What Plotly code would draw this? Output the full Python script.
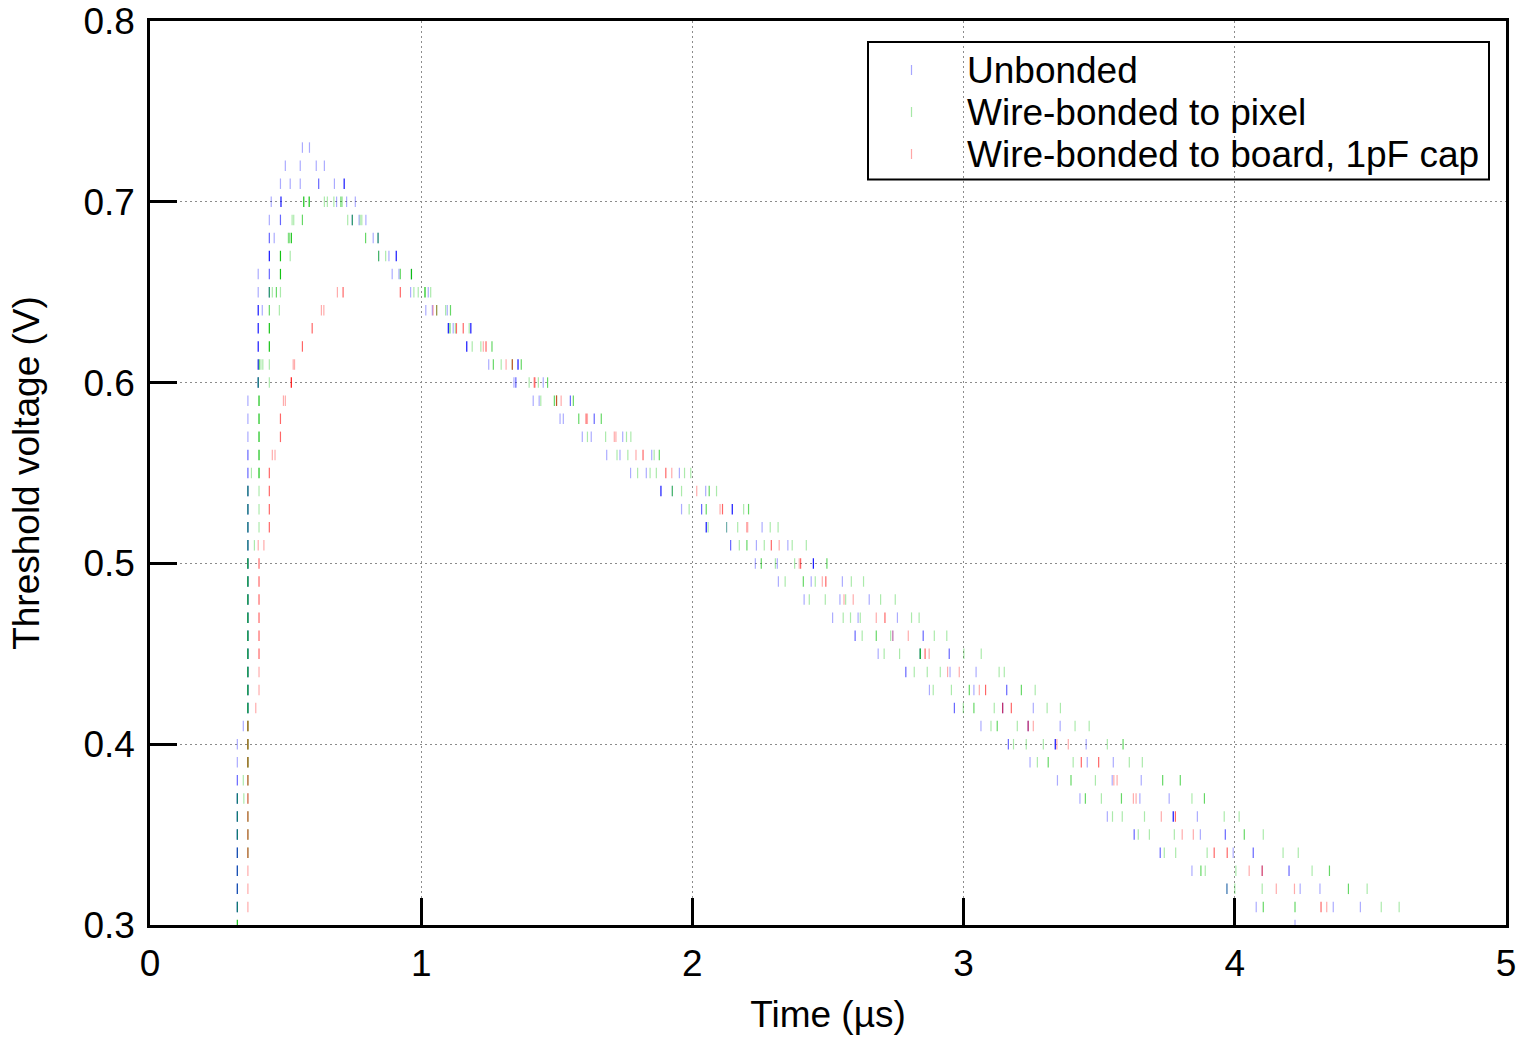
import plotly.graph_objects as go

FONT = "Liberation Sans, Arial, sans-serif"

# Threshold scan: each row is (threshold in V, crossing times in µs, weight of each mark l/m/d)
unbonded_rows = [
    (0.73, [0.562, 0.588], "ll"),
    (0.72, [0.499, 0.554, 0.613, 0.643], "llll"),
    (0.71, [0.481, 0.517, 0.554, 0.622, 0.680, 0.716], "lllmld"),
    (0.70, [0.447, 0.483, 0.688, 0.725, 0.757], "ldlll"),
    (0.69, [0.440, 0.481, 0.746, 0.771, 0.796], "lmmll"),
    (0.68, [0.440, 0.458, 0.823, 0.841], "mllm"),
    (0.67, [0.440, 0.843, 0.881, 0.908], "dlld"),
    (0.66, [0.399, 0.440, 0.893, 0.918, 0.964], "lmlll"),
    (0.65, [0.399, 0.440, 0.961, 1.026], "lmll"),
    (0.64, [0.399, 0.414, 1.017, 1.041, 1.096], "dllll"),
    (0.63, [0.399, 1.100, 1.118, 1.183], "ddld"),
    (0.62, [0.399, 1.168], "dd"),
    (0.61, [0.399, 1.249, 1.357], "dld"),
    (0.60, [0.399, 1.342, 1.349, 1.450], "dlml"),
    (0.59, [0.361, 1.413, 1.435, 1.550], "lllm"),
    (0.58, [0.361, 1.512, 1.524, 1.638], "lllm"),
    (0.57, [0.361, 1.594, 1.627, 1.743], "llll"),
    (0.56, [0.361, 1.684, 1.733, 1.850], "mlll"),
    (0.55, [0.361, 1.772, 1.830, 1.952], "mlll"),
    (0.54, [0.361, 1.884, 1.926, 2.049], "ddll"),
    (0.53, [0.361, 1.960, 2.034, 2.147], "dlmd"),
    (0.52, [0.361, 2.051, 2.126, 2.257], "ddll"),
    (0.51, [0.361, 2.141, 2.236, 2.352], "dmll"),
    (0.50, [0.361, 2.232, 2.313, 2.446], "dlld"),
    (0.49, [0.361, 2.317, 2.438, 2.553], "dlll"),
    (0.48, [0.361, 2.412, 2.544, 2.652], "dlll"),
    (0.47, [0.361, 2.517, 2.611, 2.756], "dlll"),
    (0.46, [0.361, 2.600, 2.739, 2.851], "dmlm"),
    (0.45, [0.361, 2.685, 2.840, 2.947], "dlmm"),
    (0.44, [0.361, 2.787, 2.950, 3.046], "dmll"),
    (0.43, [0.361, 2.874, 3.038, 3.159], "dllm"),
    (0.42, [0.361, 2.966, 3.144, 3.257], "dmml"),
    (0.41, [0.344, 3.064, 3.238, 3.356], "llml"),
    (0.40, [0.322, 3.165, 3.338, 3.452], "lmdl"),
    (0.39, [0.322, 3.245, 3.456, 3.552], "llll"),
    (0.38, [0.322, 3.346, 3.548, 3.655], "mlll"),
    (0.37, [0.322, 3.429, 3.650, 3.758], "dlll"),
    (0.36, [0.322, 3.530, 3.773, 3.862], "dldl"),
    (0.35, [0.322, 3.629, 3.873, 3.965], "dmlm"),
    (0.34, [0.322, 3.725, 3.994, 4.068], "dmlm"),
    (0.33, [0.322, 3.842, 4.101, 4.200], "dllm"),
    (0.32, [0.322, 3.971, 4.241, 4.314], "dmll"),
    (0.31, [0.322, 4.079, 4.363, 4.463], "dlll"),
    (0.30, [4.222], "l"),
]

pixel_rows = [
    (0.70, [0.567, 0.587, 0.643, 0.654, 0.678, 0.704, 0.709], "ddlllml"),
    (0.69, [0.524, 0.530, 0.562, 0.729, 0.746, 0.775, 0.781], "llmlmll"),
    (0.68, [0.510, 0.513, 0.521, 0.795, 0.841], "lmdmm"),
    (0.67, [0.481, 0.517, 0.843, 0.869], "dlml"),
    (0.66, [0.481, 0.923, 0.964], "dmd"),
    (0.65, [0.440, 0.451, 0.466, 0.481, 0.973, 0.989, 1.014, 1.035], "mlmllldl"),
    (0.64, [0.440, 0.477, 1.057, 1.090, 1.108], "mlmlm"),
    (0.63, [0.440, 1.106, 1.126, 1.177], "dmll"),
    (0.62, [0.440, 1.188, 1.220, 1.261], "dllm"),
    (0.61, [0.403, 0.409, 0.416, 0.440, 1.266, 1.295, 1.336, 1.369], "mlllmlmm"),
    (0.60, [0.399, 0.440, 1.398, 1.432, 1.466], "mlllm"),
    (0.59, [0.402, 1.441, 1.491, 1.499, 1.561], "dlmmm"),
    (0.58, [0.402, 1.581, 1.664], "dmm"),
    (0.57, [0.402, 1.613, 1.680, 1.757, 1.773], "dllll"),
    (0.56, [0.402, 1.722, 1.762, 1.859, 1.878], "dlllm"),
    (0.55, [0.374, 0.402, 1.798, 1.844, 1.867, 1.971, 1.994], "ldlllll"),
    (0.54, [0.361, 0.402, 1.926, 1.960, 2.062, 2.089], "mlmlml"),
    (0.53, [0.361, 0.402, 1.988, 2.051, 2.189, 2.207], "mllmlm"),
    (0.52, [0.361, 0.402, 2.058, 2.126, 2.167, 2.287, 2.316], "mllllll"),
    (0.51, [0.361, 0.385, 2.173, 2.201, 2.265, 2.368, 2.420], "mllmlll"),
    (0.50, [0.361, 2.254, 2.306, 2.377, 2.496], "dmllm"),
    (0.49, [0.361, 2.342, 2.409, 2.453, 2.586, 2.631], "dlmlll"),
    (0.48, [0.361, 2.431, 2.490, 2.565, 2.694, 2.748], "dlllll"),
    (0.47, [0.361, 2.556, 2.583, 2.619, 2.808, 2.836], "dlllll"),
    (0.46, [0.361, 2.626, 2.678, 2.731, 2.892, 2.938], "dlmlll"),
    (0.45, [0.361, 2.707, 2.764, 2.840, 3.001, 3.065], "dlldll"),
    (0.44, [0.361, 2.818, 2.866, 2.914, 3.131, 3.150], "dlllll"),
    (0.43, [0.361, 2.888, 2.955, 3.021, 3.213, 3.264], "dllmml"),
    (0.42, [0.361, 2.999, 3.038, 3.113, 3.308, 3.357], "dlmlll"),
    (0.41, [0.361, 3.101, 3.124, 3.198, 3.411, 3.463], "dlmlll"),
    (0.40, [0.361, 3.184, 3.231, 3.294, 3.530, 3.588], "dllllm"),
    (0.39, [0.361, 3.272, 3.312, 3.404, 3.611, 3.659], "dlmlll"),
    (0.38, [0.344, 0.361, 3.396, 3.486, 3.734, 3.799], "lmmlmm"),
    (0.37, [0.322, 0.346, 0.361, 3.449, 3.508, 3.582, 3.842, 3.888], "mllmlmlm"),
    (0.36, [0.322, 0.361, 3.549, 3.585, 3.667, 3.961, 4.016], "mmlllll"),
    (0.35, [0.322, 0.361, 3.644, 3.685, 3.777, 4.035, 4.105], "mmlllml"),
    (0.34, [0.322, 0.361, 3.740, 3.782, 3.898, 4.178, 4.234], "lmlllll"),
    (0.33, [0.322, 3.875, 3.891, 4.004, 4.285, 4.349], "lmlllm"),
    (0.32, [0.322, 3.971, 4.000, 4.101, 4.419, 4.488], "llllml"),
    (0.31, [0.322, 4.105, 4.222, 4.540, 4.606], "mmmll"),
    (0.30, [0.322], "d"),
]

board_rows = [
    (0.65, [0.691, 0.712, 0.923], "lmm"),
    (0.64, [0.632, 0.641, 1.044, 1.057], "llll"),
    (0.63, [0.598, 1.130, 1.155], "mmm"),
    (0.62, [0.562, 1.229, 1.239], "mlm"),
    (0.61, [0.528, 0.533, 1.313, 1.336], "lllm"),
    (0.60, [0.521, 1.416, 1.419], "dlm"),
    (0.59, [0.492, 0.499, 1.499, 1.516], "llml"),
    (0.58, [0.481, 1.608, 1.613], "mml"),
    (0.57, [0.481, 1.712, 1.718], "mll"),
    (0.56, [0.451, 0.461, 1.792, 1.818], "lllm"),
    (0.55, [0.440, 1.902, 1.924], "mml"),
    (0.54, [0.440, 2.016], "ml"),
    (0.53, [0.440, 2.102, 2.111], "mlm"),
    (0.52, [0.440, 2.200, 2.204], "mll"),
    (0.51, [0.399, 0.420, 2.291, 2.320], "llml"),
    (0.50, [0.402, 2.394, 2.399], "mlm"),
    (0.49, [0.402, 2.479, 2.492], "mlm"),
    (0.48, [0.402, 2.559, 2.593], "mll"),
    (0.47, [0.402, 2.678, 2.710], "mlm"),
    (0.46, [0.402, 2.739, 2.796], "mll"),
    (0.45, [0.402, 2.858, 2.873], "mml"),
    (0.44, [0.402, 2.941, 2.984], "lll"),
    (0.43, [0.402, 3.058, 3.081], "llm"),
    (0.42, [0.390, 3.144, 3.176], "lmm"),
    (0.41, [0.361, 3.238, 3.257], "mml"),
    (0.40, [0.361, 3.344, 3.386], "mll"),
    (0.39, [0.361, 3.434, 3.498], "mmm"),
    (0.38, [0.361, 3.554, 3.566], "mll"),
    (0.37, [0.361, 3.626, 3.636], "mll"),
    (0.36, [0.361, 3.729, 3.781], "mlm"),
    (0.35, [0.361, 3.806, 3.847], "mll"),
    (0.34, [0.361, 3.924, 3.972], "mmm"),
    (0.33, [0.361, 4.053, 4.101], "llm"),
    (0.32, [0.361, 4.153, 4.220], "lll"),
    (0.31, [0.361, 4.318, 4.339], "lml"),
]

series_names = ["Unbonded", "Wire-bonded to pixel", "Wire-bonded to board, 1pF cap"]
series_rows = [unbonded_rows, pixel_rows, board_rows]
series_rgb = ["0,0,255", "0,190,0", "255,0,0"]
weight_alpha = {"l": 0.33, "m": 0.6, "d": 0.92}

x_ticks = [0, 1, 2, 3, 4, 5]
y_ticks = [0.3, 0.4, 0.5, 0.6, 0.7, 0.8]

# page geometry (pixels)
W, H = 1524, 1039
M_L, M_R, M_T, M_B = 150, 18, 21, 114
PLOT_W = W - M_L - M_R
PLOT_H = H - M_T - M_B


def px_x(px):
    return (px - M_L) / PLOT_W


def px_y(py):
    return (H - M_B - py) / PLOT_H


fig = go.Figure()
for name, rows, rgb in zip(series_names, series_rows, series_rgb):
    xs, ys, cols = [], [], []
    for v, times, w in rows:
        for t, c in zip(times, w):
            xs.append(t)
            ys.append(v)
            cols.append(f"rgba({rgb},{weight_alpha[c]})")
    fig.add_trace(go.Scatter(
        x=xs, y=ys, mode="markers", name=name, showlegend=False,
        marker=dict(symbol="line-ns", size=7.5, line=dict(width=1.2, color=cols)),
    ))

axis_common = dict(
    showline=True, linecolor="black", linewidth=2.5, mirror=True,
    ticks="inside", ticklen=27, tickwidth=3, tickcolor="black",
    showgrid=True, gridcolor="#8c8c8c", gridwidth=1, griddash="2px,3px",
    zeroline=False,
    tickfont=dict(family=FONT, size=37, color="black"),
)

fig.update_xaxes(
    range=[0, 5], tickvals=x_ticks, ticktext=[str(v) for v in x_ticks],
    ticklabelstandoff=4,
    title=dict(text="Time (µs)", font=dict(family=FONT, size=37, color="black"), standoff=18),
    **axis_common,
)
fig.update_yaxes(
    range=[0.3, 0.8], tickvals=y_ticks, ticktext=[f"{v:.1f}" for v in y_ticks],
    ticklabelstandoff=5,
    title=dict(text="Threshold voltage (V)", font=dict(family=FONT, size=37, color="black"), standoff=33),
    **axis_common,
)

# key box with one sample mark per series
shapes = [dict(
    type="rect", xref="paper", yref="paper",
    x0=px_x(868), x1=px_x(1489), y0=px_y(179.5), y1=px_y(42),
    line=dict(color="black", width=2), fillcolor="rgba(0,0,0,0)", layer="above",
)]
annotations = []
key_rows_py = [70, 112, 154]
for name, rgb, py in zip(series_names, series_rgb, key_rows_py):
    shapes.append(dict(
        type="line", xref="paper", yref="paper",
        x0=px_x(911.5), x1=px_x(911.5), y0=px_y(py + 5), y1=px_y(py - 5),
        line=dict(color=f"rgba({rgb},0.35)", width=1.2),
    ))
    annotations.append(dict(
        xref="paper", yref="paper", x=px_x(965), y=px_y(py),
        xanchor="left", yanchor="middle", showarrow=False, text=name,
        font=dict(family=FONT, size=37, color="black"),
    ))

fig.update_layout(
    width=W, height=H,
    margin=dict(l=M_L, r=M_R, t=M_T, b=M_B, autoexpand=False),
    paper_bgcolor="white", plot_bgcolor="white",
    showlegend=False,
    shapes=shapes, annotations=annotations,
    font=dict(family=FONT, size=37, color="black"),
)

fig.write_html("out.html")
